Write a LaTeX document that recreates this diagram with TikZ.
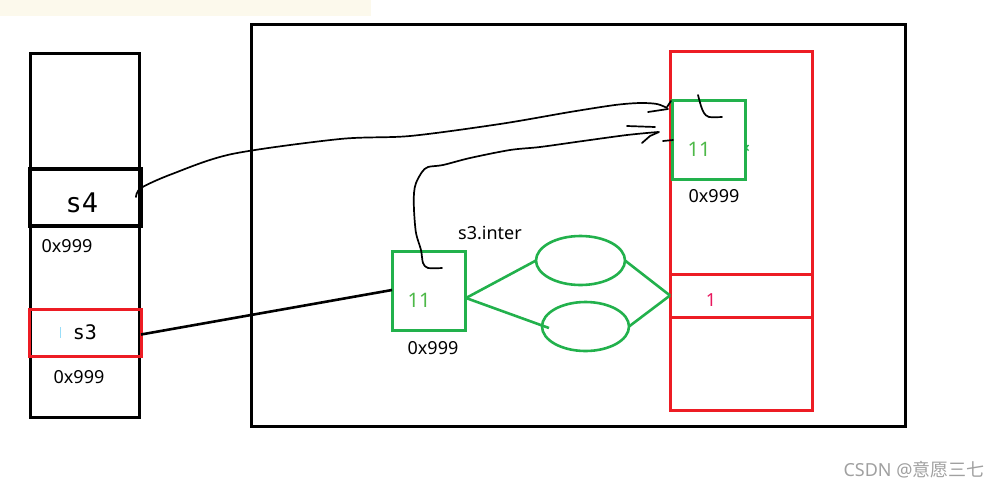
\documentclass[tikz,border=0pt]{standalone}
\usepackage{fontspec}
\setmainfont{Noto Sans}
\newfontfamily\monof{DejaVu Sans Mono}
\newfontfamily\cjk{Noto Sans CJK SC}
\usetikzlibrary{shapes.geometric}
\definecolor{pgreen}{HTML}{22B14C}
\definecolor{pred}{HTML}{ED1C24}
\definecolor{tgreen}{HTML}{4DB848}
\definecolor{tpink}{HTML}{E8175D}
\definecolor{beige}{HTML}{FCF9EC}
\definecolor{wm}{HTML}{A0A0A0}
\tikzset{
  box/.style={draw, rectangle, inner sep=0pt, outer sep=0pt, line width=3pt},
  blackbox/.style={box, draw=black},
  redbox/.style={box, draw=pred},
  greenbox/.style={box, draw=pgreen},
  oval/.style={draw=pgreen, ellipse, line width=2.6pt, inner sep=0pt, outer sep=0pt},
  glink/.style={draw=pgreen, line width=2.6pt},
  hand/.style={draw=black, line width=1.7pt, line cap=round, line join=round},
  addr/.style={inner sep=0pt, font=\fontsize{18}{18}\selectfont},
}
\begin{document}
\begin{tikzpicture}[x=1pt,y=-1pt]
\useasboundingbox (0,0) rectangle (1003,488);
\fill[beige] (0,0) rectangle (371,16);

% left stack
\node[blackbox, minimum width=109, minimum height=364] (stack) at (84.5,235) {};
\node[blackbox, line width=3.5pt, minimum width=111, minimum height=57] (s4) at (85.5,197.5) {};
\node[inner sep=0pt, font=\monof\fontsize{27}{27}\selectfont] (s4t) at (82,203) {s4};
\node[addr] (a1) at (67,246) {0x999};
\node[redbox, minimum width=112, minimum height=47] (s3) at (85,332.5) {};
\node[inner sep=0pt, font=\monof\fontsize{20}{20}\selectfont] (s3t) at (85,332) {s3};
\draw[color=cyan!40, line width=0.8pt] (60,327) -- (60,338);
\node[addr] (a2) at (79,377) {0x999};

% heap frame
\node[blackbox, minimum width=654, minimum height=402] (heap) at (578,225) {};

% red object
\node[redbox, minimum width=142, minimum height=359] (obj) at (741,230.5) {};
\node[redbox, minimum width=142, minimum height=43] (cell) at (741,295.5) {};
\node[inner sep=0pt, text=tpink, font=\fontsize{18}{18}\selectfont] (one) at (711,300) {1};

% green top box
\node[greenbox, minimum width=73, minimum height=79] (gt) at (708.5,139.5) {};
\node[inner sep=0pt, text=tgreen, font=\fontsize{20}{20}\selectfont] (gtt) at (699,149) {11};
\node[addr] (a3) at (714,196) {0x999};
\draw[draw=pgreen, line width=1.4pt] (748.5,145) -- (746,148) -- (748.5,150.5);

% green bottom box
\node[greenbox, minimum width=73, minimum height=79] (gb) at (428.5,290.5) {};
\node[inner sep=0pt, text=tgreen, font=\fontsize{20}{20}\selectfont] (gbt) at (419,300) {11};
\node[addr] (a4) at (433,348) {0x999};
\node[addr] (lbl) at (490,233) {s3.inter};

% ovals
\node[oval, minimum width=89, minimum height=49] (e1) at (580.5,260.5) {};
\node[oval, minimum width=87, minimum height=49] (e2) at (585.5,326.5) {};
\coordinate (fork) at (466,298);
\coordinate (e2in) at (549,328);
\draw[glink] (fork) -- (e1.west);
\draw[glink] (fork) -- (e2in);
\draw[glink] (e1.east) -- (cell.west);
\draw[glink] (e2.east) -- (cell.west);

% s3 -> green bottom
\draw[line width=2.6pt] (s3.east) ++(0,2) coordinate (s3o) -- (392,290) coordinate (gbi);

% s4 curve
\coordinate (s4o) at (136,197);
\draw[hand] plot[smooth, tension=0.5] coordinates {(s4o) (141,188) (172,174) (232,154) (340,139) (410,136) (500,124) (570,112) (615,105) (640,103) (657,104) (667,108)};
\draw[hand] (667,107) -- (671,101);
\draw[hand] (648,112) -- (668,109);
\draw[hand] plot[smooth, tension=0.5] coordinates {(698,95) (701,106) (704,113) (709,117) (722,117)};

% s3.inter curve
\draw[hand] plot[smooth, tension=0.5] coordinates {(442,268) (428,268) (423,263) (421,250) (416,233) (414,210) (414,193) (416,183) (422,172) (428,167) (443,165) (470,158) (510,150) (540,147) (583,141) (627,135) (658,132)};
\draw[hand] (642,143) -- (650,136) -- (659,132);
\draw[hand] (627,126) -- (655,127);
\draw[hand] (663,141) -- (673,140);

% watermark
\node[inner sep=0pt, text=wm, font=\fontsize{18}{18}\selectfont] (wmk) at (914,470) {CSDN @{\cjk 意愿三七}};
\end{tikzpicture}
\end{document}
